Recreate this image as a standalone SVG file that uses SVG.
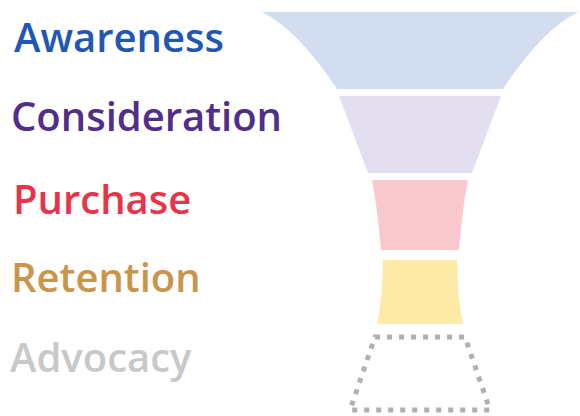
<svg xmlns="http://www.w3.org/2000/svg" width="580" height="416" viewBox="0 0 580 416">
<style>
  .lbl { font-family: "Open Sans", "Noto Sans", sans-serif; font-weight: 600; font-size: 40px; }
  .band { stroke: none; }
</style>
<rect width="580" height="416" fill="#ffffff"/>
<g id="awareness">
  <path class="band" fill="#d2ddf0" d="M262,12 L578,12 Q542,30 503,89 L337,89 Q298,30 262,12 Z"/>
  <text class="lbl" x="14" y="52" fill="#2256b4">Awareness</text>
</g>
<g id="consideration">
  <path class="band" fill="#e3dff0" d="M339,96 L501,96 Q490,125 472,173 L368,173 Q350,125 339,96 Z"/>
  <text class="lbl" x="11" y="131" fill="#512d8c">Consideration</text>
</g>
<g id="purchase">
  <path class="band" fill="#f9c9cd" d="M372,180 L468,180 Q463,205 459,250 L381,250 Q377,205 372,180 Z"/>
  <text class="lbl" x="13" y="214" fill="#e8344a">Purchase</text>
</g>
<g id="retention">
  <path class="band" fill="#fdeaa7" d="M383,260 L457,260 Q457,295 463,324 L377,324 Q383,295 383,260 Z"/>
  <text class="lbl" x="11" y="292" fill="#c9954a">Retention</text>
</g>
<g id="advocacy">
  <path fill="none" stroke="#b0b0b0" stroke-width="5" stroke-dasharray="5 7" d="M375,337 L465,337 L490,410 L350,410 Z"/>
  <text class="lbl" x="10" y="372" fill="#c8c8c8">Advocacy</text>
</g>
<g id="connectors"></g>
</svg>
